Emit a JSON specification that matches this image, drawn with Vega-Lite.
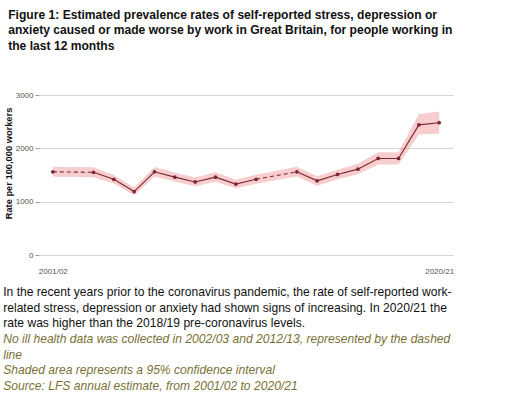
{
  "$schema": "https://vega.github.io/schema/vega-lite/v6.json",
  "background": "white",
  "padding": {"left": 3, "top": 8, "right": 5, "bottom": 5},
  "title": {
    "text": ["Figure 1: Estimated prevalence rates of self-reported stress, depression or", "anxiety caused or made worse by work in Great Britain, for people working in", "the last 12 months"],
    "anchor": "start", "frame": "bounds", "dx": 5,
    "font": "Liberation Sans", "fontSize": 12.1, "fontWeight": "bold", "lineHeight": 15.5, "color": "#111", "offset": 39
  },
  "datasets": {
    "main": [
      {"period": "2001/02", "rate": 1560, "lo": 1465, "hi": 1655, "seg": "a"},
      {"period": "2003/04", "rate": 1550, "lo": 1460, "hi": 1645, "seg": "b"},
      {"period": "2004/05", "rate": 1420, "lo": 1340, "hi": 1500, "seg": "b"},
      {"period": "2005/06", "rate": 1190, "lo": 1120, "hi": 1265, "seg": "b"},
      {"period": "2006/07", "rate": 1560, "lo": 1470, "hi": 1650, "seg": "b"},
      {"period": "2007/08", "rate": 1460, "lo": 1380, "hi": 1545, "seg": "b"},
      {"period": "2008/09", "rate": 1370, "lo": 1290, "hi": 1455, "seg": "b"},
      {"period": "2009/10", "rate": 1460, "lo": 1375, "hi": 1550, "seg": "b"},
      {"period": "2010/11", "rate": 1330, "lo": 1250, "hi": 1410, "seg": "b"},
      {"period": "2011/12", "rate": 1420, "lo": 1335, "hi": 1505, "seg": "b"},
      {"period": "2013/14", "rate": 1560, "lo": 1470, "hi": 1655, "seg": "c"},
      {"period": "2014/15", "rate": 1390, "lo": 1300, "hi": 1475, "seg": "c"},
      {"period": "2015/16", "rate": 1510, "lo": 1420, "hi": 1600, "seg": "c"},
      {"period": "2016/17", "rate": 1610, "lo": 1515, "hi": 1710, "seg": "c"},
      {"period": "2017/18", "rate": 1810, "lo": 1695, "hi": 1925, "seg": "c"},
      {"period": "2018/19", "rate": 1810, "lo": 1695, "hi": 1925, "seg": "c"},
      {"period": "2019/20", "rate": 2440, "lo": 2260, "hi": 2640, "seg": "c"},
      {"period": "2020/21", "rate": 2480, "lo": 2280, "hi": 2690, "seg": "c"}
    ],
    "gaps": [
      {"period": "2001/02", "rate": 1560, "gap": "g1"},
      {"period": "2003/04", "rate": 1550, "gap": "g1"},
      {"period": "2011/12", "rate": 1420, "gap": "g2"},
      {"period": "2013/14", "rate": 1560, "gap": "g2"}
    ]
  },
  "vconcat": [
    {
      "width": 414,
      "height": 160,
      "title": {
        "text": ["In the recent years prior to the coronavirus pandemic, the rate of self-reported work-", "related stress, depression or anxiety had shown signs of increasing. In 2020/21 the", "rate was higher than the 2018/19 pre-coronavirus levels."],
        "subtitle": ["No ill health data was collected in 2002/03 and 2012/13, represented by the dashed", "line", "Shaded area represents a 95% confidence interval", "Source: LFS annual estimate, from 2001/02 to 2020/21"],
        "orient": "bottom", "anchor": "start", "frame": "bounds", "dx": -1, "offset": 11,
        "font": "Liberation Sans", "fontSize": 12.1, "fontWeight": "normal", "lineHeight": 15.5, "color": "#111",
        "subtitleFont": "Liberation Sans", "subtitleFontSize": 12.1, "subtitleFontStyle": "italic", "subtitleLineHeight": 15.5, "subtitleColor": "#7a7035", "subtitlePadding": 4
      },
      "encoding": {
        "x": {
          "field": "period", "type": "ordinal",
          "scale": {"type": "point", "padding": 0.68, "domain": ["2001/02", "2002/03", "2003/04", "2004/05", "2005/06", "2006/07", "2007/08", "2008/09", "2009/10", "2010/11", "2011/12", "2012/13", "2013/14", "2014/15", "2015/16", "2016/17", "2017/18", "2018/19", "2019/20", "2020/21"]},
          "axis": {"values": ["2001/02", "2020/21"], "title": null, "labelAngle": 0, "ticks": false, "domain": false, "grid": false, "labelFont": "Liberation Sans", "labelFontSize": 8, "labelColor": "#555", "labelPadding": 12}
        }
      },
      "layer": [
        {
          "data": {"name": "main"},
          "mark": {"type": "area", "color": "#e35a5a", "opacity": 0.3},
          "encoding": {
            "y": {"field": "lo", "type": "quantitative", "scale": {"domain": [0, 3000]},
              "axis": {"values": [0, 1000, 2000, 3000], "format": "d", "title": "Rate per 100,000 workers", "titleY": 68, "titleFont": "Liberation Sans", "titleFontSize": 9.3, "titleFontWeight": "bold", "titleColor": "#111", "titlePadding": 2, "labelFont": "Liberation Sans", "labelFontSize": 8, "labelColor": "#555", "labelPadding": 2, "tickSize": 4, "tickColor": "#999", "domain": false, "gridColor": "#d4d4d4", "gridWidth": 1}},
            "y2": {"field": "hi"}
          }
        },
        {
          "data": {"name": "gaps"},
          "mark": {"type": "line", "color": "#7a2832", "strokeWidth": 1.1, "strokeDash": [4, 3]},
          "encoding": {
            "y": {"field": "rate", "type": "quantitative"},
            "detail": {"field": "gap"}
          }
        },
        {
          "data": {"name": "main"},
          "mark": {"type": "line", "color": "#7a2832", "strokeWidth": 1.1},
          "encoding": {
            "y": {"field": "rate", "type": "quantitative"},
            "detail": {"field": "seg"}
          }
        },
        {
          "data": {"name": "main"},
          "mark": {"type": "point", "filled": true, "color": "#7a2832", "size": 14, "opacity": 1},
          "encoding": {
            "y": {"field": "rate", "type": "quantitative"}
          }
        }
      ]
    }
  ],
  "config": {"view": {"stroke": null}, "concat": {"spacing": 0}}
}
